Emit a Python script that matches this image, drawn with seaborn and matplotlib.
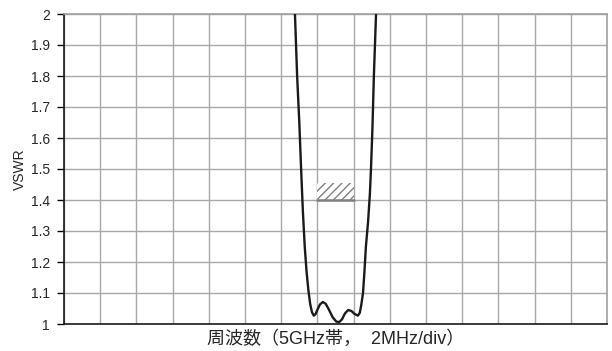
from matplotlib import pyplot as plt
from matplotlib.patches import Rectangle
import pandas as pd
import seaborn as sns
import numpy as np

# frequency in divisions (2 MHz/div), VSWR
freq_div = [6.30, 6.38, 6.44, 6.50, 6.55, 6.60, 6.65, 6.70, 6.75, 6.80, 6.85, 6.90,
            6.95, 7.00, 7.07, 7.15, 7.23, 7.32, 7.42, 7.52, 7.60, 7.68, 7.76, 7.85,
            7.94, 8.03, 8.12, 8.17, 8.21, 8.26, 8.30, 8.34, 8.40, 8.45, 8.48, 8.52,
            8.56, 8.62, 8.67]
vswr = [2.25, 2.00, 1.80, 1.65, 1.50, 1.36, 1.25, 1.17, 1.11, 1.065, 1.038, 1.027,
        1.032, 1.046, 1.063, 1.071, 1.065, 1.046, 1.022, 1.008, 1.006, 1.015, 1.034, 1.045,
        1.042, 1.032, 1.027, 1.036, 1.06, 1.10, 1.17, 1.25, 1.33, 1.42, 1.50, 1.63,
        1.80, 2.00, 2.25]

# spec box (target band)
spec_x = [7, 8]
spec_y = [1.4, 1.455]

y_ticks = [1, 1.1, 1.2, 1.3, 1.4, 1.5, 1.6, 1.7, 1.8, 1.9, 2]
y_labels = ["1", "1.1", "1.2", "1.3", "1.4", "1.5", "1.6", "1.7", "1.8", "1.9", "2"]
n_div = 15

df = pd.DataFrame({"freq": freq_div, "vswr": vswr})

sns.set_style("white")
plt.rcParams["font.family"] = ["Liberation Sans", "Noto Sans CJK JP", "DejaVu Sans"]
plt.rcParams["hatch.linewidth"] = 1.0

fig = plt.figure(figsize=(6.12, 3.51), dpi=100)
ax = fig.add_axes([64 / 612, 1 - 324 / 351, 543 / 612, 310 / 351])

ax.add_patch(Rectangle((spec_x[0], spec_y[0]), spec_x[1] - spec_x[0], spec_y[1] - spec_y[0],
                       facecolor="white", edgecolor="#808080", lw=0, hatch="////", zorder=2))
ax.plot(spec_x, [spec_y[0], spec_y[0]], color="#808080", lw=1.8, zorder=2)

sns.lineplot(data=df, x="freq", y="vswr", color="#1a1a1a", lw=1.7, sort=False,
             estimator=None, ax=ax, zorder=3)

ax.set_xlim(0, n_div)
ax.set_ylim(1, 2)
ax.set_xticks([0, 5, 10, 15])
ax.set_xticks(range(n_div + 1), minor=True)
ax.set_yticks(y_ticks)
ax.set_yticklabels(y_labels)
ax.tick_params(axis="x", which="major", direction="in", length=4, width=1, labelbottom=False,
               color="black")
ax.tick_params(axis="x", which="minor", length=0)
ax.tick_params(axis="y", which="major", direction="out", length=5, width=1, labelsize=10,
               left=True, color="black", pad=5)
ax.grid(True, which="both", color="#a8a8a8", lw=1.0)
ax.set_axisbelow(True)

for side in ["top", "right"]:
    ax.spines[side].set_color("#a0a0a0")
    ax.spines[side].set_linewidth(1.2)
for side in ["left", "bottom"]:
    ax.spines[side].set_color("#1a1a1a")
    ax.spines[side].set_linewidth(1.2)

ax.set_xlabel("周波数（5GHz帯，  2MHz/div）", fontsize=13, labelpad=1)
ax.set_ylabel("VSWR", fontsize=10, labelpad=3)

fig.savefig("out.png", dpi=100)
